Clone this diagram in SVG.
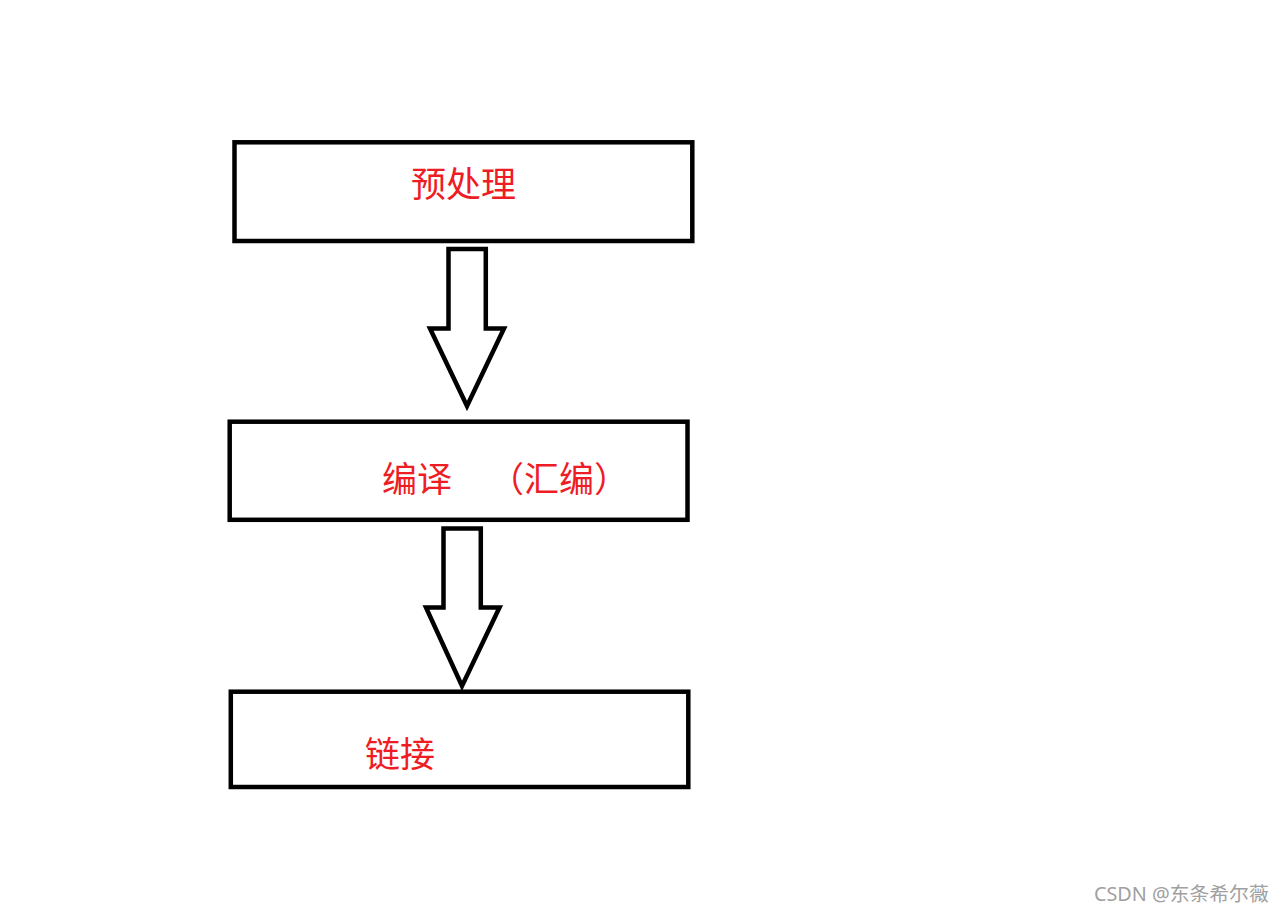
<svg xmlns="http://www.w3.org/2000/svg" width="1281" height="913" viewBox="0 0 1281 913">
<style>
.box{fill:none;stroke:#000;stroke-width:4.5}
.arr{fill:#fff;stroke:#000;stroke-width:4.5;stroke-linejoin:miter}
.lbl{fill:#ee1c24;font-family:"Microsoft YaHei","Noto Sans CJK SC",sans-serif;font-size:35px}
.wm{fill:#a0a0a0;font-family:"Noto Sans","Noto Sans CJK SC",sans-serif;font-size:19.8px}
</style>
<rect width="1281" height="913" fill="#fff"/>
<g id="connectors">
<polygon class="arr" points="448.5,249 485.8,249 485.8,328.5 504,328.5 467,406 430,328.5 448.5,328.5"/>
<polygon class="arr" points="443.5,528.5 480.8,528.5 480.8,607.5 499.5,607.5 462,686 426,607.5 443.5,607.5"/>
</g>
<g id="preprocess">
<rect class="box" x="234.5" y="142.3" width="457.8" height="98.7"/>
<text class="lbl" x="411" y="197">预处理</text>
</g>
<g id="compile">
<rect class="box" x="229.7" y="421.7" width="457.8" height="98.1"/>
<text class="lbl" x="382" y="492">编译</text>
<text class="lbl" x="489" y="492">（汇编）</text>
</g>
<g id="link">
<rect class="box" x="230.8" y="691.7" width="457.5" height="95.3"/>
<text class="lbl" x="365" y="767">链接</text>
</g>
<text class="wm" x="1094" y="901">CSDN @东条希尔薇</text>
</svg>
